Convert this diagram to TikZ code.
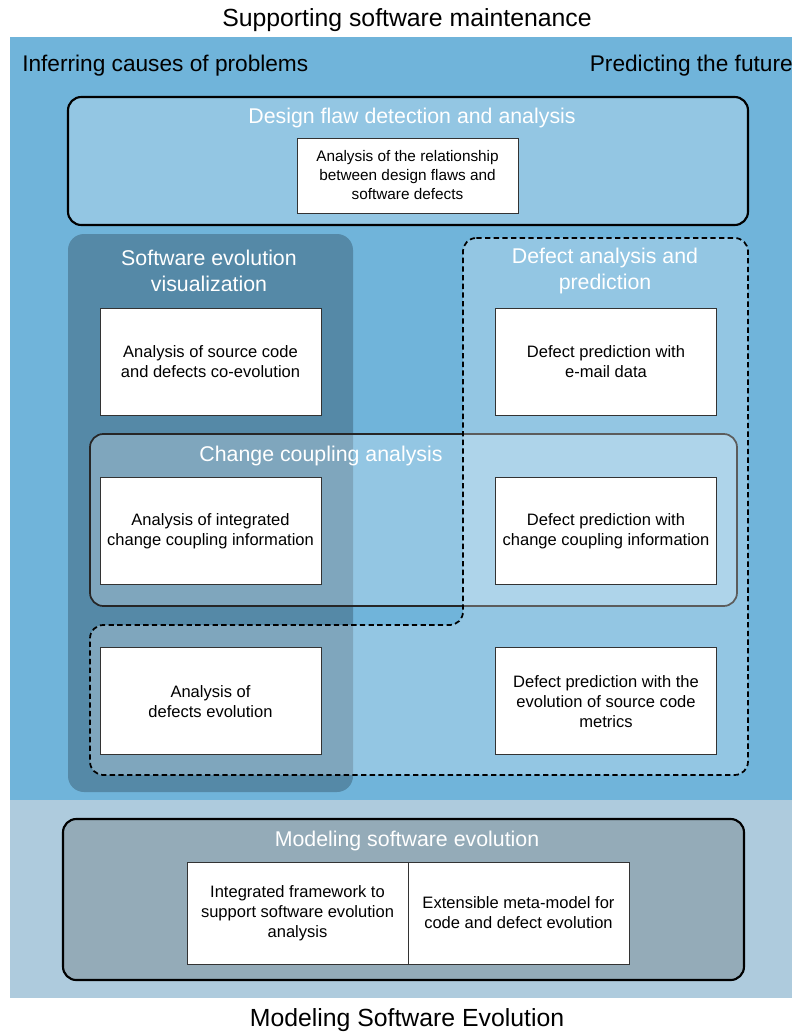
\documentclass[tikz,border=0pt]{standalone}
\usepackage{fontspec}
\setmainfont{Liberation Sans}
\usetikzlibrary{positioning}
\definecolor{skyblue}{HTML}{70B4DA}
\definecolor{paleblue}{HTML}{AECBDD}
\definecolor{deepblue}{HTML}{5589A7}
\definecolor{slateblue}{HTML}{94ABB8}

\begin{document}
\begin{tikzpicture}[x=0.75pt, y=-0.75pt]
\tikzset{item/.style={draw=black!80, fill=white, line width=0.6pt, align=center,
                      minimum width=165.75pt, minimum height=80.25pt, inner sep=2pt,
                      font=\fontsize{12.4}{15}\selectfont},
         title/.style={text=white, align=center, font=\fontsize{16}{19.5}\selectfont},
         heading/.style={font=\fontsize{18.6}{22}\selectfont},
         side/.style={inner sep=0pt, font=\fontsize{17}{20}\selectfont},
         frame/.style={line width=1.6pt, rounded corners=10pt},
         glass/.style={fill=white, fill opacity=0.25}}
\useasboundingbox (0,0) rectangle (792,1033);
% the two bands
\fill[skyblue] (10,37) rectangle (792,800);
\fill[paleblue] (10,800) rectangle (792,998);
\node[heading] (support) at (407,20) {Supporting software maintenance};
\node[heading] (model) at (407,1020) {Modeling Software Evolution};
\node[side, anchor=west] (infer) at (22,66) {Inferring causes of problems};
\node[side, anchor=east] (future) at (793,66) {Predicting the future};
% design flaws
\draw[frame, glass] (68,97) rectangle (748,225);
\node[title] (flawt) at (412,118) {Design flaw detection and analysis};
\node[item, minimum height=56.25pt, font=\fontsize{11.5}{14.25}\selectfont]
     (flaw) at (407.5,175.5) {Analysis of the relationship\\between design flaws and\\software defects};
% visualization, coupling and prediction areas
\fill[deepblue, rounded corners=12pt] (68,234) rectangle (353,792);
\draw[frame, glass, draw=black!85, line width=1.3pt] (90,434) rectangle (737,606);
\draw[glass, line width=1.3pt, dash pattern=on 4pt off 2.5pt, rounded corners=10pt]
     (463,238) -- (748,238) -- (748,775) -- (90,775) -- (90,625) -- (463,625) -- cycle;
\node[title] (visut) at (209,271) {Software evolution\\visualization};
\node[title] (predt) at (605,271) {Defect analysis and\\prediction};
\node[title] (coupt) at (321,456) {Change coupling analysis};
\node[item] (coevo) at (210.5,361.5) {Analysis of source code\\and defects co-evolution};
\node[item, below=46.5pt of coevo] (intcc) {Analysis of integrated\\change coupling information};
\node[item, below=46.5pt of intcc] (defevo) {Analysis of\\defects evolution};
\node[item] (email) at (606,361.5) {Defect prediction with\\e-mail data};
\node[item, below=46.5pt of email] (ccinfo) {Defect prediction with\\change coupling information};
\node[item, below=46.5pt of ccinfo] (metrics) {Defect prediction with the\\evolution of source code\\metrics};
% modeling
\draw[frame, fill=slateblue] (63,819) rectangle (744,980);
\node[title] (modelt) at (407,841) {Modeling software evolution};
\node[item, minimum height=76.5pt] (frmwk) at (297.5,913) {Integrated framework to\\support software evolution\\analysis};
\node[item, minimum height=76.5pt, right=-0.6pt of frmwk] (meta) {Extensible meta-model for\\code and defect evolution};
\end{tikzpicture}
\end{document}
